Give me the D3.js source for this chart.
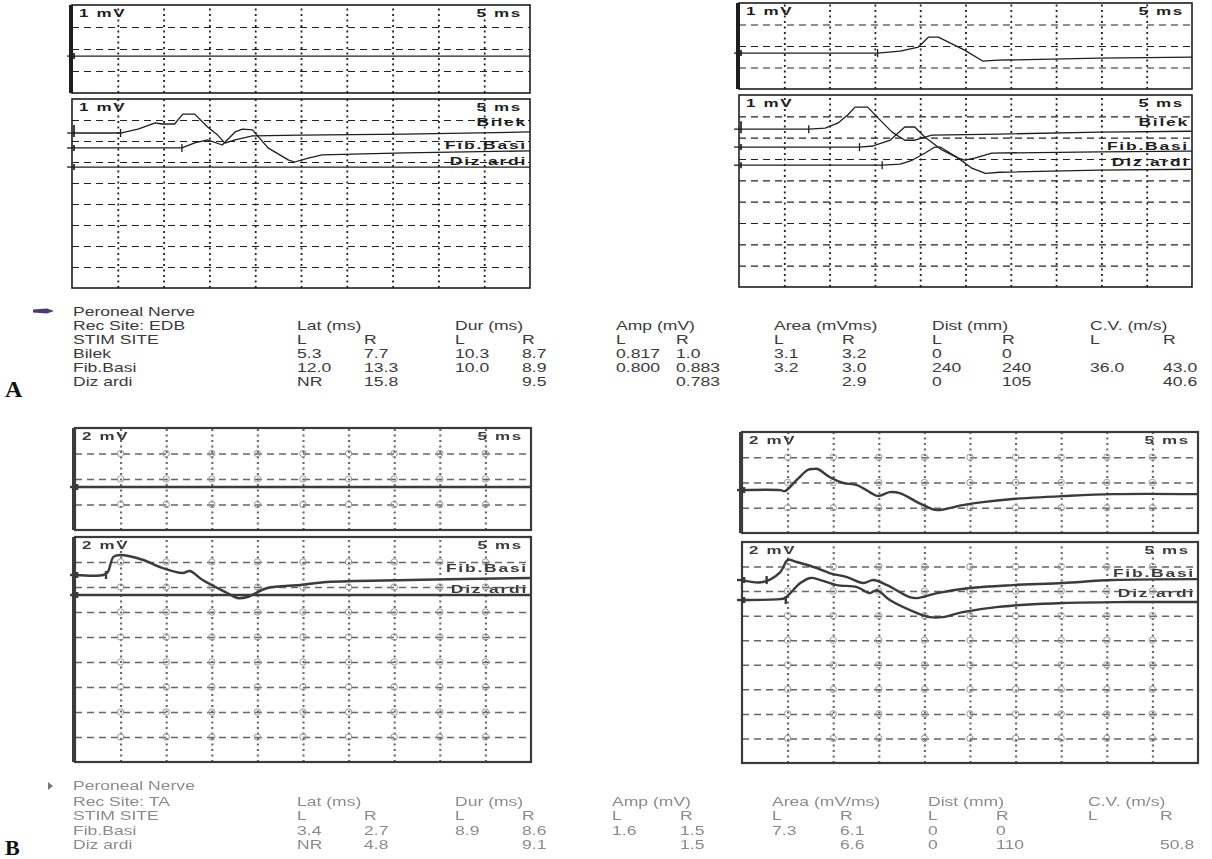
<!DOCTYPE html>
<html><head><meta charset="utf-8">
<script src="https://cdn.jsdelivr.net/npm/d3@7"></script>
<style>body{margin:0;background:#fff}svg{display:block}</style>
</head><body>
<svg id="c" width="1212" height="859"></svg>
<script>
// ---------------- DATA ----------------
const msRange = [0, 50];            // sweep: 10 div x 5 ms
// ---- A : Rec site EDB ----
const aLTop_t = [0, 50];
const aLTop_v = [0, 0];
const aLBilek_t = [0, 5.3, 7.2, 9.1, 9.8, 11.2, 12.1, 13.4, 14.8, 15.9, 16.7, 17.8, 19.7, 24.9, 36.4, 50];
const aLBilek_v = [0, 0, 0.19, 0.48, 0.43, 0.43, 0.9, 0.9, 0.29, -0.1, -0.48, -0.33, -0.14, -0.1, -0.05, 0.05];
const aLFib_t = [0, 12.0, 13.4, 14.8, 16.4, 17.8, 18.6, 19.7, 21.4, 23.6, 24.3, 25.8, 27.3, 36.4, 50];
const aLFib_v = [0, 0, 0.24, 0.38, 0.14, 0.76, 0.9, 0.86, 0, -0.57, -0.67, -0.48, -0.33, -0.24, -0.14];
const aLDiz_t = [0, 50];
const aLDiz_v = [0, 0];
const aRTop_t = [0, 15.3, 17.8, 19.8, 20.9, 22.0, 24.9, 26.9, 28.6, 39.8, 50];
const aRTop_v = [0, 0, 0.09, 0.28, 0.74, 0.74, 0.14, -0.37, -0.33, -0.23, -0.19];
const aRBilek_t = [0, 7.7, 9.5, 10.9, 12.0, 12.8, 14.2, 15.8, 16.9, 18.3, 19.4, 21.3, 28.8, 39.8, 50];
const aRBilek_v = [0, 0, 0.05, 0.28, 0.66, 1.03, 1.03, 0.33, -0.14, -0.52, -0.52, -0.28, -0.23, -0.14, -0.1];
const aRFib_t = [0, 13.3, 14.8, 16.7, 18.3, 19.4, 20.5, 22.4, 24.2, 24.9, 26.0, 27.9, 39.8, 50];
const aRFib_v = [0, 0, 0.05, 0.33, 0.94, 0.94, 0.47, -0.14, -0.52, -0.61, -0.52, -0.28, -0.23, -0.19];
const aRDiz_t = [0, 15.8, 17.8, 19.1, 20.5, 21.6, 22.2, 24.2, 25.7, 27.2, 28.8, 39.8, 50];
const aRDiz_v = [0, 0, 0.05, 0.23, 0.56, 0.85, 0.85, 0.33, -0.14, -0.38, -0.33, -0.23, -0.19];
// ---- B : Rec site TA ----
const bLTop_t = [0, 50];
const bLTop_v = [0, 0];
const bLFib_t = [0, 3.1, 3.6, 4.2, 4.9, 7.5, 9.3, 11.8, 12.6, 14.0, 16.7, 17.8, 18.9, 21.1, 24.7, 27.6, 36.7, 50];
const bLFib_v = [0, 0, 0.24, 1.44, 1.6, 1.2, 0.64, 0.16, 0.32, -0.4, -1.44, -1.84, -1.76, -1.04, -0.8, -0.56, -0.4, -0.24];
const bLDiz_t = [0, 50];
const bLDiz_v = [0, 0];
const bRTop_t = [0, 4.2, 4.7, 6.0, 7.2, 7.8, 8.3, 9.6, 11.1, 12.6, 14.0, 14.9, 16.2, 17.3, 19.2, 20.6, 21.4, 24.2, 26.4, 29.7, 35.2, 40.7, 50];
const bRTop_v = [0, 0, -0.08, 0.8, 1.59, 1.67, 1.67, 1.03, 0.56, 0.4, -0.16, -0.48, -0.16, -0.24, -0.95, -1.43, -1.59, -1.19, -0.95, -0.71, -0.48, -0.32, -0.32];
const bRFib_t = [0, 2.3, 4.2, 5.0, 6.0, 8.2, 9.6, 11.5, 13.3, 14.4, 15.9, 18.4, 19.2, 21.4, 25.0, 29.7, 35.2, 40.7, 50];
const bRFib_v = [0, -0.16, 0.65, 1.63, 1.47, 0.98, 0.57, 0.24, -0.24, 0, -0.41, -1.39, -1.47, -1.06, -0.65, -0.41, -0.24, 0, 0.08];
const bRDiz_t = [0, 4.1, 4.7, 6.4, 7.5, 8.6, 10.4, 12.6, 14.0, 14.8, 16.2, 19.2, 20.6, 22.0, 24.2, 27.9, 35.2, 42.5, 50];
const bRDiz_v = [0, 0.08, 0.16, 1.39, 1.8, 1.63, 1.22, 1.06, 0.57, 0.8, 0, -1.06, -1.39, -1.39, -0.98, -0.57, -0.24, -0.16, -0.16];

// ---- Tables ----
const colHeads = ["Lat (ms)", "Dur (ms)", "Amp (mV)", "Area (mVms)", "Dist (mm)", "C.V. (m/s)"];
const colHeadsB = ["Lat (ms)", "Dur (ms)", "Amp (mV)", "Area (mV/ms)", "Dist (mm)", "C.V. (m/s)"];
const sitesA = ["Bilek", "Fib.Basi", "Diz ardi"];
const latL_A = ["5.3", "12.0", "NR"], latR_A = ["7.7", "13.3", "15.8"];
const durL_A = ["10.3", "10.0", ""], durR_A = ["8.7", "8.9", "9.5"];
const ampL_A = ["0.817", "0.800", ""], ampR_A = ["1.0", "0.883", "0.783"];
const areaL_A = ["3.1", "3.2", ""], areaR_A = ["3.2", "3.0", "2.9"];
const distL_A = ["0", "240", "0"], distR_A = ["0", "240", "105"];
const cvL_A = ["", "36.0", ""], cvR_A = ["", "43.0", "40.6"];
const sitesB = ["Fib.Basi", "Diz ardi"];
const latL_B = ["3.4", "NR"], latR_B = ["2.7", "4.8"];
const durL_B = ["8.9", ""], durR_B = ["8.6", "9.1"];
const ampL_B = ["1.6", ""], ampR_B = ["1.5", "1.5"];
const areaL_B = ["7.3", ""], areaR_B = ["6.1", "6.6"];
const distL_B = ["0", "0"], distR_B = ["0", "110"];
const cvL_B = ["", ""], cvR_B = ["", "50.8"];

// ---------------- LAYOUT ----------------
const FONT = "'Liberation Sans', Arial, sans-serif";
const svg = d3.select("#c");
svg.append("rect").attr("width", 1212).attr("height", 859).attr("fill", "#fff");
const defs = svg.append("defs");
defs.append("filter").attr("id", "blurB").attr("x", "-5%").attr("y", "-5%").attr("width", "110%").attr("height", "110%")
  .append("feGaussianBlur").attr("stdDeviation", 0.7);

const styA = {ink: "#1e1e1e", grid: "#222", gw: 1.2, tw: 1.3, bw: 1.6, curve: d3.curveLinear};
const styB = {ink: "#3a3a3a", grid: "#666", gw: 1.5, tw: 2.4, bw: 2.2, curve: d3.curveCatmullRom.alpha(0.5), blur: true, rings: true};

const panels = [
  {s: styA, x0: 72, x1: 530, y0: 5, y1: 93, divs: 4, mvDiv: 1, unit: "1 mV", heavy: true,
   traces: [{t: aLTop_t, v: aLTop_v, base: 2.32}]},
  {s: styA, x0: 72, x1: 530, y0: 99, y1: 288, divs: 9, mvDiv: 1, unit: "1 mV",
   traces: [{t: aLBilek_t, v: aLBilek_v, base: 1.62, lat: latL_A[0], big: true},
            {t: aLFib_t, v: aLFib_v, base: 2.33, lat: latL_A[1]},
            {t: aLDiz_t, v: aLDiz_v, base: 3.24, lat: latL_A[2]}],
   labels: [[sitesA[0], 126], [sitesA[1], 149], [sitesA[2], 165]]},
  {s: styA, x0: 739, x1: 1192, y0: 3, y1: 89, divs: 4, mvDiv: 1, unit: "1 mV", heavy: true,
   traces: [{t: aRTop_t, v: aRTop_v, base: 2.33, lat: "15.3"}]},
  {s: styA, x0: 739, x1: 1192, y0: 95, y1: 287, divs: 9, mvDiv: 1, unit: "1 mV",
   traces: [{t: aRBilek_t, v: aRBilek_v, base: 1.6, lat: latR_A[0], big: true},
            {t: aRFib_t, v: aRFib_v, base: 2.44, lat: latR_A[1]},
            {t: aRDiz_t, v: aRDiz_v, base: 3.29, lat: latR_A[2]}],
   labels: [[sitesA[0], 126], [sitesA[1], 150], [sitesA[2], 166]]},
  {s: styB, x0: 75, x1: 531, y0: 428, y1: 530, divs: 4, mvDiv: 2, unit: "2 mV", heavy: true,
   traces: [{t: bLTop_t, v: bLTop_v, base: 4.63}]},
  {s: styB, x0: 75, x1: 531, y0: 537, y1: 762, divs: 9, mvDiv: 2, unit: "2 mV", heavy: true,
   traces: [{t: bLFib_t, v: bLFib_v, base: 3.04, lat: latL_B[0]},
            {t: bLDiz_t, v: bLDiz_v, base: 4.64, lat: latL_B[1]}],
   labels: [[sitesB[0], 572], [sitesB[1], 593]]},
  {s: styB, x0: 742, x1: 1198, y0: 432, y1: 533, divs: 4, mvDiv: 2, unit: "2 mV", heavy: true,
   traces: [{t: bRTop_t, v: bRTop_v, base: 4.6}]},
  {s: styB, x0: 742, x1: 1198, y0: 542, y1: 763, divs: 9, mvDiv: 2, unit: "2 mV",
   traces: [{t: bRFib_t, v: bRFib_v, base: 3.1, lat: latR_B[0]},
            {t: bRDiz_t, v: bRDiz_v, base: 4.73, lat: latR_B[1]}],
   labels: [[sitesB[0], 577], [sitesB[1], 597]]}
];

function stext(g, x, y, str, o) {
  o = o || {};
  return g.append("text")
    .attr("transform", `translate(${x},${y}) scale(${o.sx || 1.35},1)`)
    .attr("text-anchor", o.anchor || "start")
    .attr("font-family", o.family || FONT)
    .attr("font-size", o.size || 13)
    .attr("font-weight", o.weight || "normal")
    .attr("letter-spacing", o.ls || 0)
    .attr("fill", o.fill || "#333")
    .text(str);
}

panels.forEach(p => {
  const s = p.s;
  const g = svg.append("g");
  if (s.blur) g.attr("filter", "url(#blurB)");
  const x = d3.scaleLinear().domain(msRange).range([p.x0, p.x1]);
  const y = d3.scaleLinear().domain([0, p.divs * p.mvDiv]).range([p.y0, p.y1]);
  const xt = d3.range(5, 50, 5), yt = d3.range(1, p.divs).map(d => d * p.mvDiv);
  // vertical dotted grid (time divisions)
  g.append("g").attr("transform", `translate(0,${p.y1})`)
    .call(d3.axisBottom(x).tickValues(xt).tickSize(-(p.y1 - p.y0)).tickFormat(""))
    .call(a => a.select(".domain").remove())
    .selectAll("line").attr("stroke", s.grid).attr("stroke-width", s.gw + 0.6).attr("stroke-dasharray", "2,3.5");
  // horizontal dashed grid (voltage divisions)
  g.append("g").attr("transform", `translate(${p.x0},0)`)
    .call(d3.axisLeft(y).tickValues(yt).tickSize(-(p.x1 - p.x0)).tickFormat(""))
    .call(a => a.select(".domain").remove())
    .selectAll("line").attr("stroke", s.grid).attr("stroke-width", s.gw).attr("stroke-dasharray", "7,5");
  // small rings at grid crossings (B recordings)
  if (s.rings) {
    const cross = d3.cross(xt, yt);
    g.append("g").selectAll("circle").data(cross).join("circle")
      .attr("cx", d => x(d[0])).attr("cy", d => y(d[1])).attr("r", 3.2)
      .attr("fill", "none").attr("stroke", "#999").attr("stroke-width", 1);
  }
  // frame
  g.append("rect").attr("x", p.x0).attr("y", p.y0).attr("width", p.x1 - p.x0).attr("height", p.y1 - p.y0)
    .attr("fill", "none").attr("stroke", s.ink).attr("stroke-width", s.bw);
  if (p.heavy) g.append("line").attr("x1", p.x0 - 1).attr("x2", p.x0 - 1).attr("y1", p.y0).attr("y2", p.y1)
    .attr("stroke", s.ink).attr("stroke-width", 4);
  // texts
  stext(g, p.x0 + 7, p.y0 + 12, p.unit, {size: 10, weight: "bold", sx: 1.7, ls: 1, fill: s.ink});
  stext(g, p.x1 - 8, p.y0 + 12, "5 ms", {size: 10, weight: "bold", sx: 1.7, ls: 1, fill: s.ink, anchor: "end"});
  (p.labels || []).forEach(([txt, ly]) =>
    stext(g, p.x1 - 3, ly, txt, {size: 10, weight: "bold", sx: 1.75, ls: 1, fill: s.ink, anchor: "end"}));
  // traces
  p.traces.forEach(tr => {
    const pts = tr.t.map((t, i) => [t, tr.v[i]]);
    const line = d3.line().x(d => x(d[0])).y(d => y(tr.base - d[1])).curve(s.curve);
    g.append("path").attr("d", line(pts)).attr("fill", "none")
      .attr("stroke", s.ink).attr("stroke-width", s.tw).attr("stroke-linejoin", "round");
    const by = y(tr.base);
    const h = tr.big ? 8 : 3;
    g.append("line").attr("x1", x(0) + 2).attr("x2", x(0) + 2).attr("y1", by - h).attr("y2", by + (tr.big ? 4 : 3))
      .attr("stroke", s.ink).attr("stroke-width", s.tw + 0.4);
    g.append("line").attr("x1", x(0) - 5).attr("x2", x(0)).attr("y1", by).attr("y2", by)
      .attr("stroke", s.ink).attr("stroke-width", s.tw);
    const lv = parseFloat(tr.lat);
    if (!isNaN(lv)) {
      g.append("line").attr("x1", x(lv)).attr("x2", x(lv)).attr("y1", by - 4).attr("y2", by + 4)
        .attr("stroke", s.ink).attr("stroke-width", s.tw);
    }
  });
});

// ---------------- TABLES ----------------
function table(opts) {
  const g = svg.append("g");
  if (opts.blur) g.attr("filter", "url(#blurB)");
  const f = opts.fill;
  const ys = opts.rows;
  const cx = opts.cols; // [latL, latR, durL, durR, ampL, ampR, areaL, areaR, distL, distR, cvL, cvR]
  stext(g, 73, ys[0], "Peroneal Nerve", {fill: f});
  stext(g, 73, ys[1], opts.rec, {fill: f});
  stext(g, 73, ys[2], "STIM SITE", {fill: f});
  opts.heads.forEach((h, i) => stext(g, cx[i * 2], ys[1], h, {fill: f}));
  cx.forEach((c, i) => stext(g, c, ys[2], i % 2 ? "R" : "L", {fill: f}));
  opts.sites.forEach((site, r) => {
    const yy = ys[3 + r];
    stext(g, 73, yy, site, {fill: f});
    opts.vals.forEach((arr, i) => { if (arr[r]) stext(g, cx[i], yy, arr[r], {fill: f}); });
  });
  return g;
}
table({
  rows: [316, 330, 344, 358, 372, 386], fill: "#3a3a3a", rec: "Rec Site: EDB", heads: colHeads,
  cols: [297, 364, 455, 522, 616, 676, 774, 842, 932, 1002, 1090, 1163],
  sites: sitesA,
  vals: [latL_A, latR_A, durL_A, durR_A, ampL_A, ampR_A, areaL_A, areaR_A, distL_A, distR_A, cvL_A, cvR_A]
});
table({
  rows: [790, 806, 820, 835, 849], fill: "#8a8a8a", rec: "Rec Site: TA", heads: colHeadsB, blur: true,
  cols: [297, 364, 455, 522, 612, 680, 772, 840, 928, 996, 1088, 1160],
  sites: sitesB,
  vals: [latL_B, latR_B, durL_B, durR_B, ampL_B, ampR_B, areaL_B, areaR_B, distL_B, distR_B, cvL_B, cvR_B]
});
// bullet marks
svg.append("path").attr("d", "M33,309.5 L47,308.5 L54,311 L47,313.5 L33,312.5 Z").attr("fill", "#4a3a7a");
svg.append("path").attr("d", "M48,782 L53,786 L48,790 Z").attr("fill", "#777").attr("filter", "url(#blurB)");
// figure letters
svg.append("text").attr("x", 5).attr("y", 397).attr("font-family", "'Liberation Serif', 'Times New Roman', serif")
  .attr("font-weight", "bold").attr("font-size", 24).attr("fill", "#111").text("A");
svg.append("text").attr("x", 5).attr("y", 855).attr("font-family", "'Liberation Serif', 'Times New Roman', serif")
  .attr("font-weight", "bold").attr("font-size", 22).attr("fill", "#111").text("B");
</script>
</body></html>
